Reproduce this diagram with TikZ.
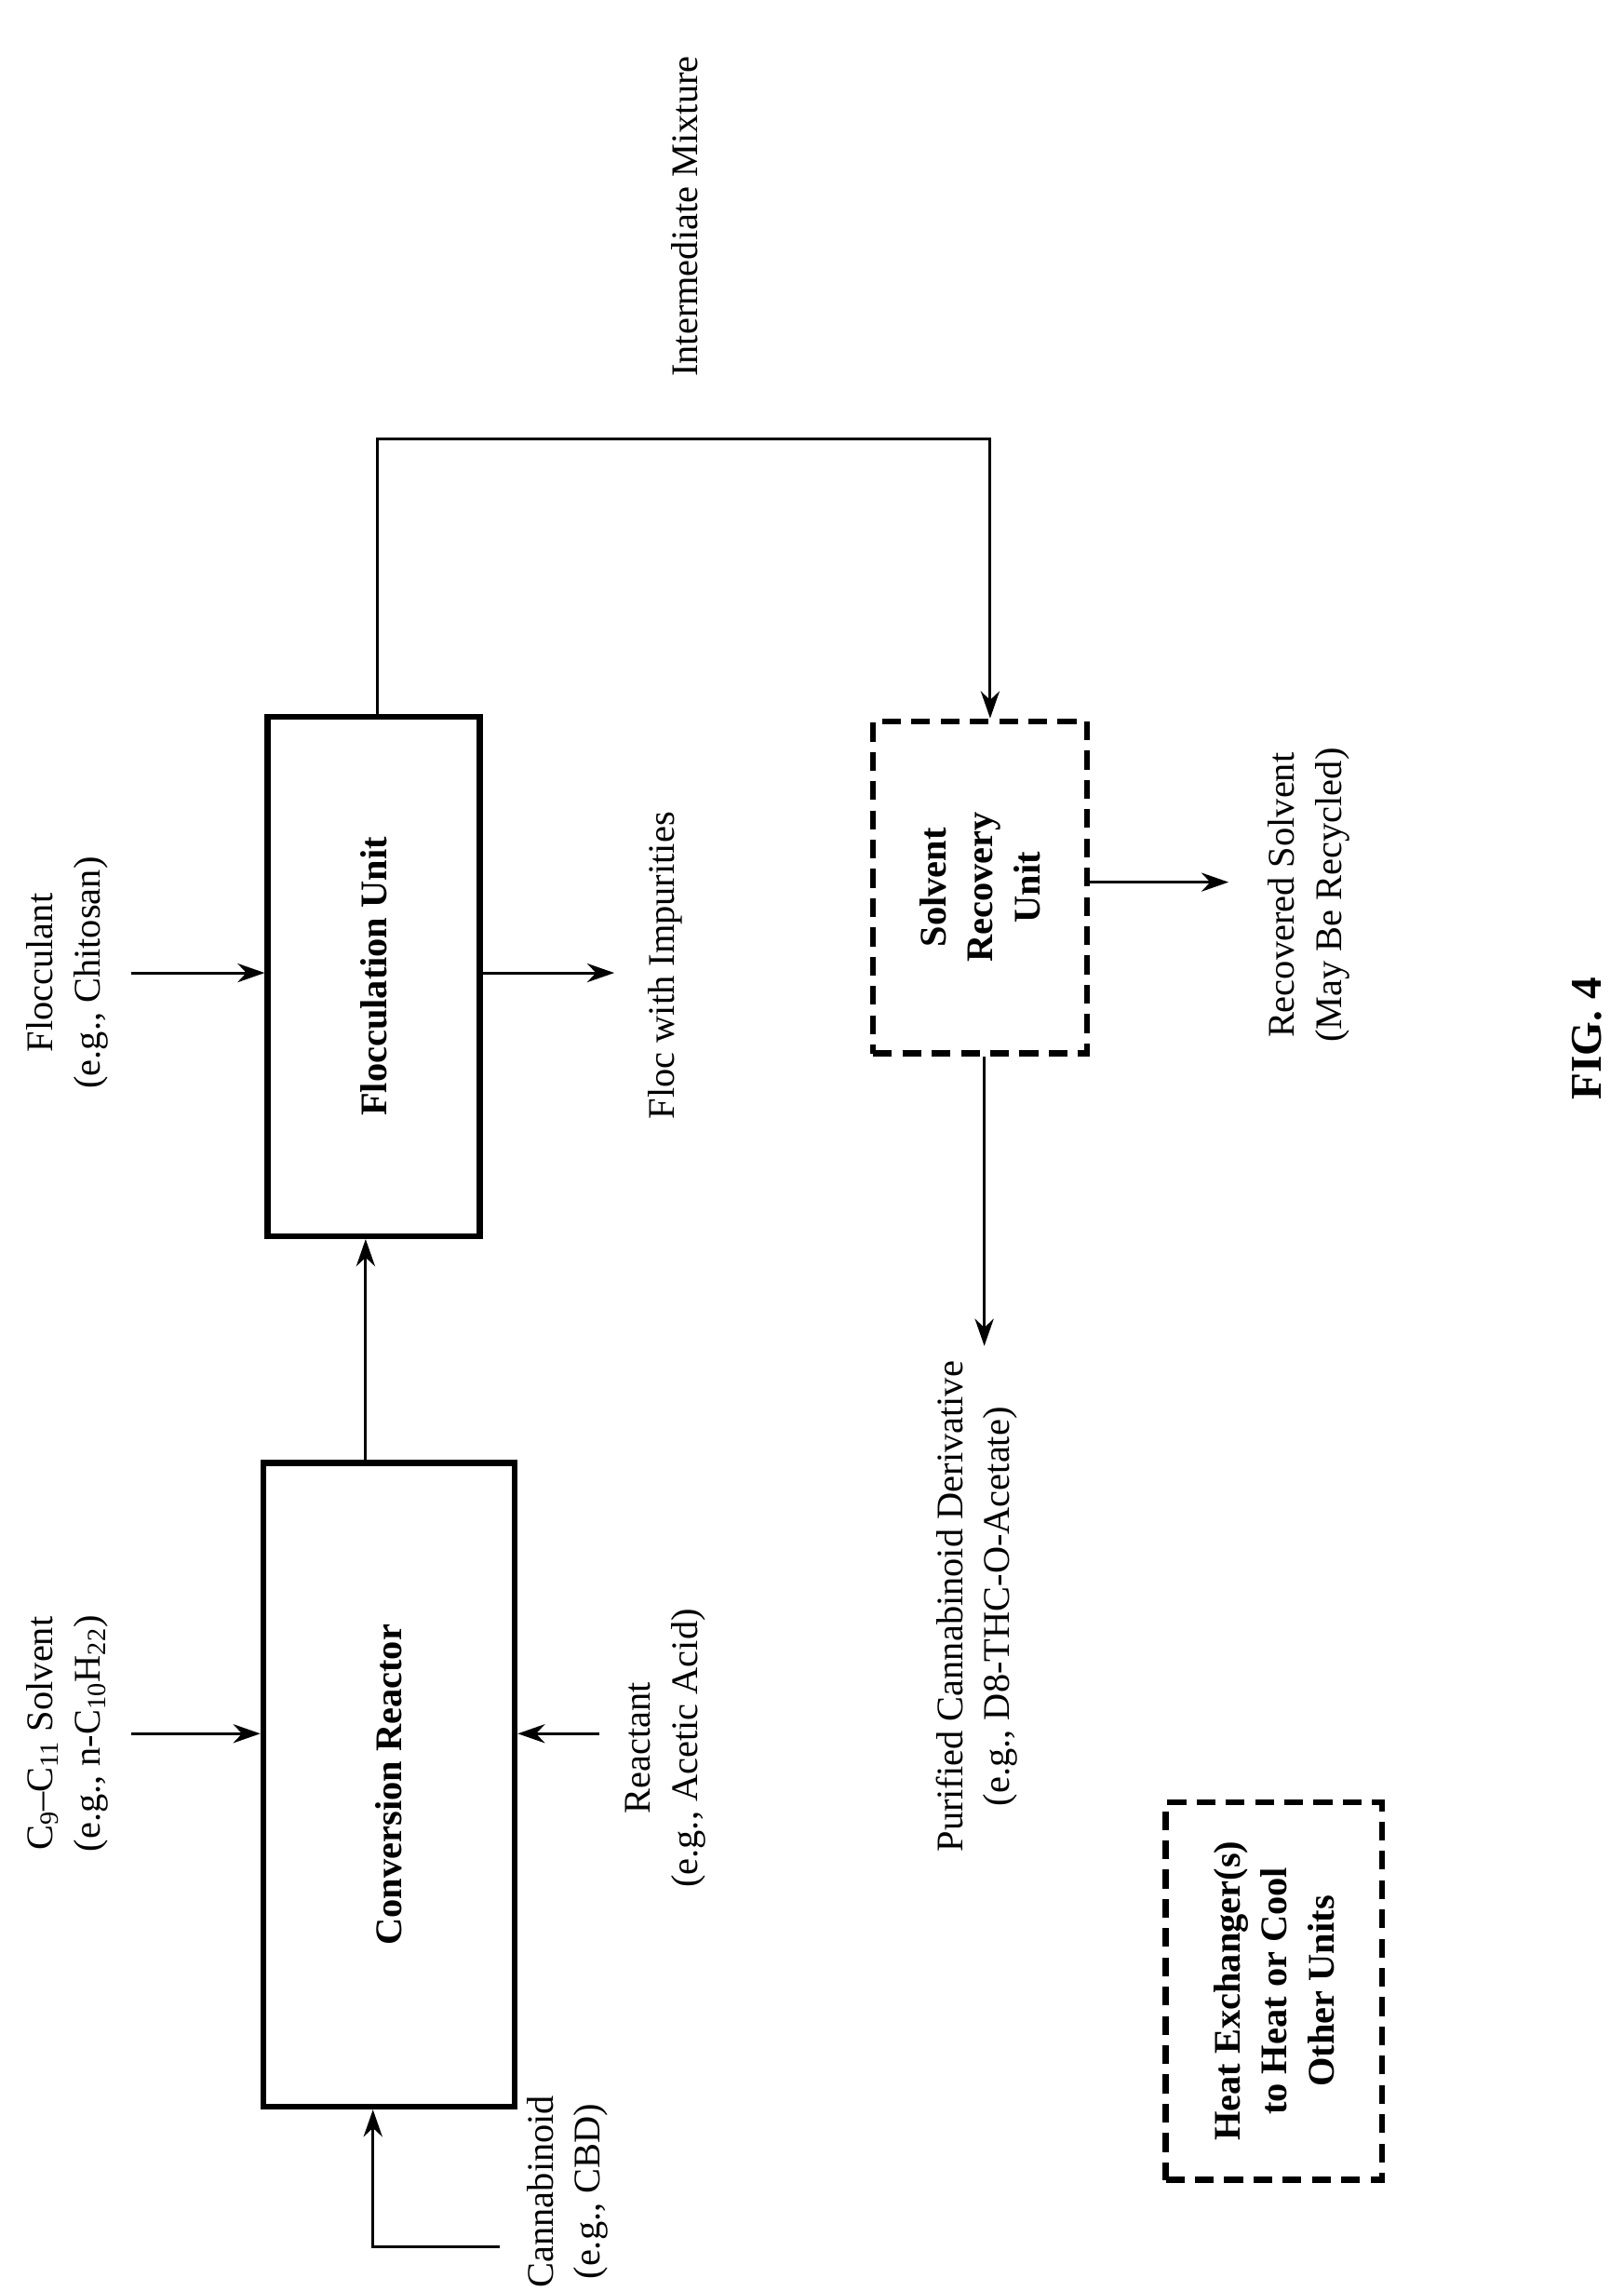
\documentclass[tikz,border=0pt]{standalone}
\usepackage{fontspec}
\setmainfont{Liberation Serif}
\usetikzlibrary{arrows.meta}
\begin{document}
\begin{tikzpicture}[x=0.7pt,y=-0.7pt,
  box/.style={draw,line width=2.8pt,inner sep=0pt},
  dbox/.style={draw,line width=2.8pt,dash pattern=on 9pt off 5pt,inner sep=0pt},
  lab/.style={rotate=90,align=center,font=\fontsize{18}{22.5}\selectfont,inner sep=0pt},
  blab/.style={rotate=90,align=center,font=\bfseries\fontsize{18}{22.5}\selectfont,inner sep=0pt},
  arr/.style={line width=1.3pt,-{Stealth[length=13pt,width=9pt]}},
  ln/.style={line width=1.3pt}]
\useasboundingbox (0,0) rectangle (1110,1566);
\node[box,minimum width=120.4pt,minimum height=308pt] (cr) at (266,1220) {};
\node[blab] at (cr) {Conversion Reactor};
\node[box,minimum width=101.5pt,minimum height=248.5pt] (fu) at (255.5,667.5) {};
\node[blab] at (fu) {Flocculation Unit};
\node[dbox,minimum width=102.2pt,minimum height=158.9pt] (sr) at (670,606.5) {};
\node[blab] at (sr) {Solvent\\Recovery\\Unit};
\node[dbox,minimum width=103.6pt,minimum height=180.6pt] (hx) at (871,1361) {};
\node[blab] at (hx) {Heat Exchanger(s)\\to Heat or Cool\\Other Units};
% labels
\node[lab] (solv) at (46,1185) {C\textsubscript{9}–C\textsubscript{11} Solvent\\(e.g., n-C\textsubscript{10}H\textsubscript{22})};
\node[lab,anchor=east] (cbd) at (388,1432) {Cannabinoid\\(e.g., CBD)};
\node[lab] (react) at (455,1195) {Reactant\\(e.g., Acetic Acid)};
\node[lab] (floc) at (46,665) {Flocculant\\(e.g., Chitosan)};
\node[lab] (fimp) at (455,660) {Floc with Impurities};
\node[lab] (im) at (468,148) {Intermediate Mixture};
\node[lab] (rs) at (895,612) {Recovered Solvent\\(May Be Recycled)};
\node[lab,anchor=east] (pcd) at (668,930) {Purified Cannabinoid Derivative\\(e.g., D8-THC-O-Acetate)};
\node[blab,font=\bfseries\fontsize{21}{25}\selectfont] (fig) at (1085,710) {FIG. 4};
% connectors
\coordinate (c1) at (90,1185);
\coordinate (c2) at (410,1185);
\coordinate (c3) at (342,1536);
\coordinate (c4) at (255,1536);
\coordinate (f1) at (90,665);
\coordinate (f2) at (420,665);
\coordinate (t1) at (258,300);
\coordinate (t2) at (677,300);
\coordinate (r2) at (840,603);
\coordinate (p2) at (673,920);
\draw[arr] (c1) -- (c1 -| cr.west);
\draw[arr] (c2) -- (c2 -| cr.east);
\draw[arr] (c3) -- (c4) -- (c4 |- cr.south);
\draw[arr] (cr.north -| 250,0) -- (fu.south -| 250,0);
\draw[arr] (f1) -- (f1 -| fu.west);
\draw[arr] (f2 -| fu.east) -- (f2);
\draw[arr] (t1 |- fu.north) -- (t1) -- (t2) -- (t2 |- sr.north);
\draw[arr] (r2 -| sr.east) -- (r2);
\draw[arr] (p2 |- sr.south) -- (p2);
\end{tikzpicture}
\end{document}
